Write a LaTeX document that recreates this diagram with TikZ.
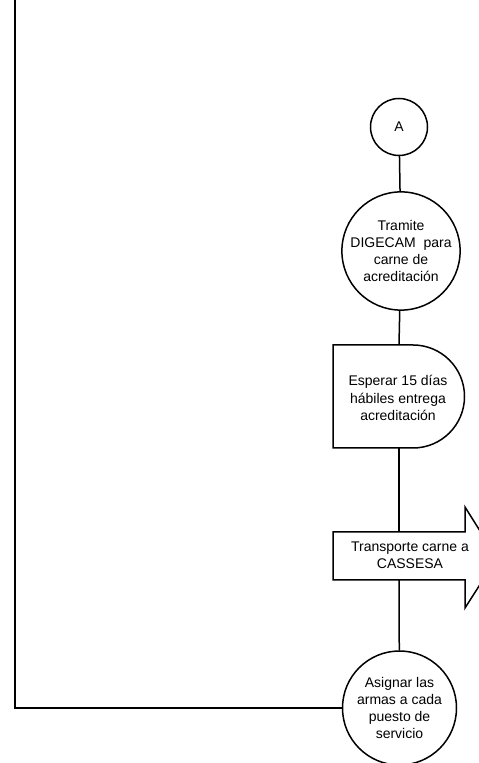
\documentclass[tikz,border=0pt]{standalone}
\usepackage{fontspec}
\setmainfont{Liberation Sans}
\begin{document}
\begin{tikzpicture}[x=1pt,y=1pt,line width=1.5pt,
  txt/.style={font=\fontsize{14}{17.2}\selectfont},
  circ/.style={circle,draw,minimum size=#1,inner sep=0pt,align=center,txt},
  lbl/.style={align=center,inner sep=0pt,txt}]
\useasboundingbox (0,0) rectangle (479,763);
\begin{scope}
\clip (0,0) rectangle (479,763);
\node[circ=57] (A) at (399,636) {A};
\node[circ=107] (T) at (401,512) {Tramite\\DIGECAM\ \ para\\carne de\\acreditación};
% delay shape
\draw (413,418) -- (333,418) -- (333,315) -- (413,315) arc[start angle=-90,end angle=90,radius=51.5] -- cycle;
\node[lbl] (D) at (398,365) {Esperar 15 días\\hábiles entrega\\acreditación};
\coordinate (Dt) at (399,418);
\coordinate (Db) at (399,315);
% arrow shape
\draw (333,231) -- (465,231) -- (465,256) -- (497,205) -- (465,155) -- (465,183) -- (333,183) -- cycle;
\node[lbl] (Tr) at (410,208) {Transporte carne a\\CASSESA};
\coordinate (Trt) at (399,231);
\coordinate (Trb) at (399,183);
\node[circ=114] (S) at (399.5,55) {Asignar las\\armas a cada\\puesto de\\servicio};
\coordinate (L) at (15,55);
\coordinate (Ltop) at (15,775);
\draw (A) -- (T);
\draw (T) -- (Dt);
\draw (Db) -- (Trt);
\draw (Trb) -- (S);
\draw (S) -- (L) -- (Ltop);
\end{scope}
\end{tikzpicture}
\end{document}
